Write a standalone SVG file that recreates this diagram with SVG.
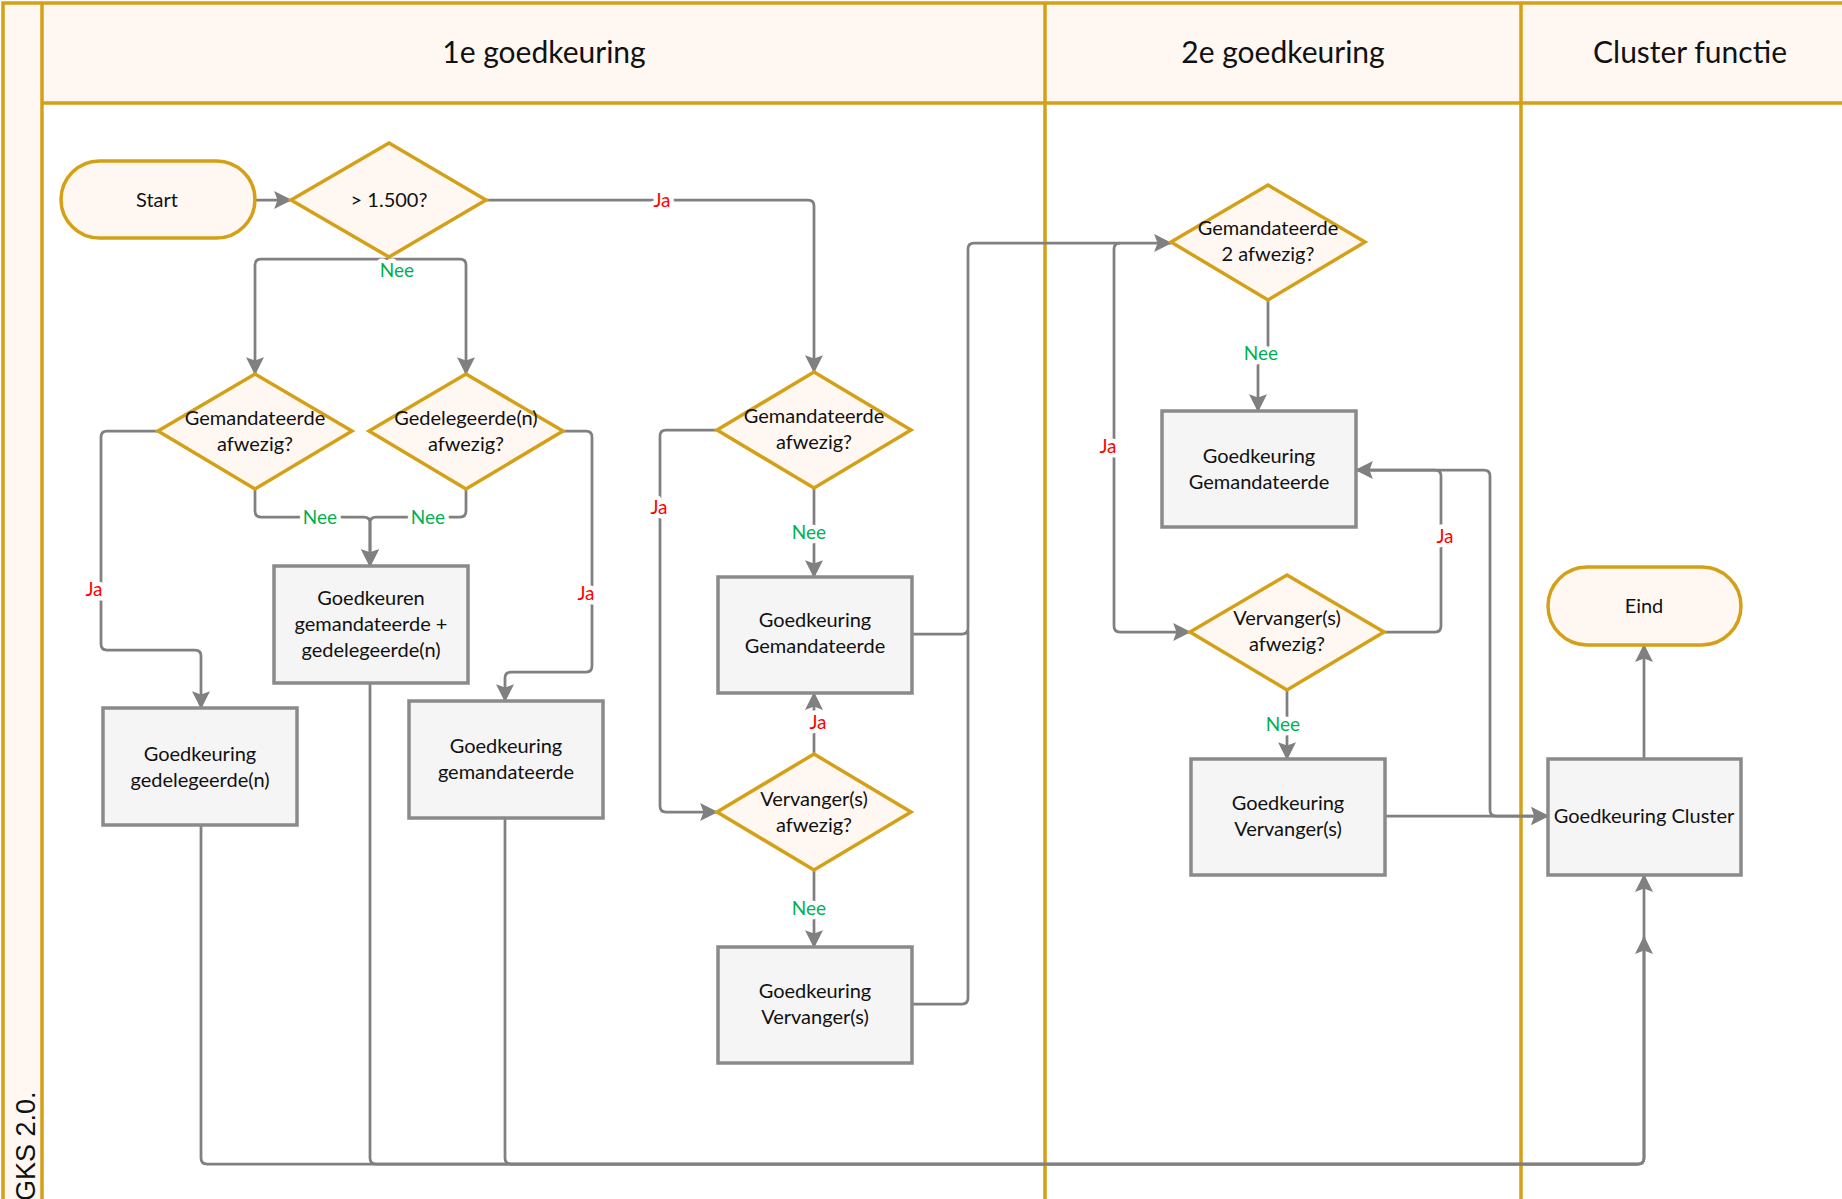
<svg xmlns="http://www.w3.org/2000/svg" width="1842" height="1199" viewBox="0 0 1842 1199">
<defs>
<marker id="arr" markerUnits="userSpaceOnUse" markerWidth="18" markerHeight="18" viewBox="0 0 16 16" refX="15" refY="8" orient="auto">
<path d="M0,0 L16,8 L0,16 L3,8 z" fill="#808080"/>
</marker>
<style>
.lane{stroke:#D4A017;stroke-width:3.5;fill:none}
.cream{fill:#FFF8F2}
.con{fill:none;stroke:#808080;stroke-width:2.75;stroke-linejoin:round}
.arr{marker-end:url(#arr)}
.box{fill:#F5F5F5;stroke:#8A8A8A;stroke-width:3.5}
.dia{fill:#FFF8F2;stroke:#D4A017;stroke-width:3.5;stroke-linejoin:miter}
.term{fill:#FFF8F2;stroke:#D4A017;stroke-width:3.5}
.t{font-family:Lato,"Open Sans","Liberation Sans",sans-serif;font-size:20px;fill:#111;text-anchor:middle}
.h{font-family:Lato,"Open Sans","Liberation Sans",sans-serif;font-size:30px;fill:#111;text-anchor:middle}
.ja{font-family:Lato,"Open Sans","Liberation Sans",sans-serif;font-size:19px;fill:#FF0000;text-anchor:middle;stroke:#fff;stroke-width:9;paint-order:stroke;stroke-linejoin:round}
.nee{font-family:Lato,"Open Sans","Liberation Sans",sans-serif;font-size:19px;fill:#00B050;text-anchor:middle;stroke:#fff;stroke-width:9;paint-order:stroke;stroke-linejoin:round}
</style>
</defs>
<rect x="0" y="0" width="1842" height="1199" fill="#fff"/>
<g id="pool">
<rect class="cream" x="3" y="3" width="39" height="1200"/>
<rect class="cream" x="42" y="3" width="1810" height="100"/>
<path class="lane" d="M3,1210 V3 H1850 M42,3 V1210 M42,103 H1850 M1045,3 V1210 M1521,3 V1210"/>
<text class="h" x="544" y="63">1e goedkeuring</text>
<text class="h" x="1283" y="63">2e goedkeuring</text>
<text class="h" x="1690" y="63">Cluster functie</text>
<text transform="translate(35,1201) rotate(-90)" font-family="'Liberation Sans',Arial,sans-serif" font-size="27" fill="#111">GKS 2.0.</text>
</g>
<g id="connectors">
<path class="con arr" d="M255,200 H291"/>
<path class="con arr" d="M486,200 H808 Q814,200 814,206 V372"/>
<path class="con arr" d="M389,257 V259 H261 Q255,259 255,265 V374"/>
<path class="con arr" d="M389,259 H460 Q466,259 466,265 V374"/>
<path class="con arr" d="M158,431 H107 Q101,431 101,437 V644 Q101,650 107,650 H195 Q201,650 201,656 V708"/>
<path class="con arr" d="M255,489 V511 Q255,517 261,517 H364 Q370,517 370,523 V566"/>
<path class="con arr" d="M466,489 V511 Q466,517 460,517 H376 Q370,517 370,523 V566"/>
<path class="con arr" d="M563,431 H586 Q592,431 592,437 V666 Q592,672 586,672 H511 Q505,672 505,678 V701"/>
<path class="con arr" d="M717,430 H666 Q660,430 660,436 V806 Q660,812 666,812 H717"/>
<path class="con arr" d="M814,488 V577"/>
<path class="con arr" d="M814,754 V693"/>
<path class="con arr" d="M814,870 V947"/>
<path class="con arr" d="M912,634 H962 Q968,634 968,628 V249 Q968,243 974,243 H1171"/>
<path class="con" d="M912,1004 H962 Q968,1004 968,998 V630"/>
<path class="con arr" d="M1120,243 Q1114,243 1114,249 V626 Q1114,632 1120,632 H1190"/>
<path class="con arr" d="M1268,300 V353 H1258 V411"/>
<path class="con arr" d="M1384,632 H1435 Q1441,632 1441,626 V476 Q1441,470 1435,470 H1356"/>
<path class="con arr" d="M1356,470 H1484 Q1490,470 1490,476 V810 Q1490,816 1496,816 H1548"/>
<path class="con arr" d="M1287,690 V759"/>
<path class="con arr" d="M1385,816 H1548"/>
<path class="con arr" d="M1644,759 V645"/>
<path class="con arr" d="M201,825 V1158 Q201,1164 207,1164 H1638 Q1644,1164 1644,1158 V875"/>
<path class="con" d="M370,683 V1158 Q370,1164 376,1164 H1638"/>
<path class="con arr" d="M505,818 V1158 Q505,1164 511,1164 H1638 Q1644,1164 1644,1158 V937"/>
<text class="ja" x="662" y="207">Ja</text>
<text class="nee" x="397" y="277">Nee</text>
<text class="ja" x="94" y="596">Ja</text>
<text class="nee" x="320" y="524">Nee</text>
<text class="nee" x="428" y="524">Nee</text>
<text class="ja" x="586" y="600">Ja</text>
<text class="ja" x="659" y="514">Ja</text>
<text class="nee" x="809" y="539">Nee</text>
<text class="ja" x="818" y="729">Ja</text>
<text class="nee" x="809" y="915">Nee</text>
<text class="ja" x="1108" y="453">Ja</text>
<text class="nee" x="1261" y="360">Nee</text>
<text class="ja" x="1445" y="543">Ja</text>
<text class="nee" x="1283" y="731">Nee</text>
</g>
<g id="start"><rect class="term" x="61" y="161" width="194" height="77" rx="38.5"/><text class="t" x="157" y="207">Start</text></g>
<g id="d_bedrag"><polygon class="dia" points="389,143 486,200 389,257 291,200"/><text class="t" x="389" y="207">&gt; 1.500?</text></g>
<g id="d_gemandateerde1"><polygon class="dia" points="255,374 352,431 255,489 158,431"/><text class="t" x="255" y="425">Gemandateerde</text><text class="t" x="255" y="451">afwezig?</text></g>
<g id="d_gedelegeerde"><polygon class="dia" points="466,374 563,431 466,489 369,431"/><text class="t" x="466" y="425">Gedelegeerde(n)</text><text class="t" x="466" y="451">afwezig?</text></g>
<g id="b_goedkeuren_beide"><rect class="box" x="274" y="566" width="194" height="117"/><text class="t" x="371" y="605">Goedkeuren</text><text class="t" x="371" y="631">gemandateerde +</text><text class="t" x="371" y="657">gedelegeerde(n)</text></g>
<g id="b_gedelegeerde"><rect class="box" x="103" y="708" width="194" height="117"/><text class="t" x="200" y="761">Goedkeuring</text><text class="t" x="200" y="787">gedelegeerde(n)</text></g>
<g id="b_gemandateerde1"><rect class="box" x="409" y="701" width="194" height="117"/><text class="t" x="506" y="753">Goedkeuring</text><text class="t" x="506" y="779">gemandateerde</text></g>
<g id="d_gemandateerde2"><polygon class="dia" points="814,372 911,430 814,488 717,430"/><text class="t" x="814" y="423">Gemandateerde</text><text class="t" x="814" y="449">afwezig?</text></g>
<g id="b_gemandateerde2"><rect class="box" x="718" y="577" width="194" height="116"/><text class="t" x="815" y="627">Goedkeuring</text><text class="t" x="815" y="653">Gemandateerde</text></g>
<g id="d_vervanger1"><polygon class="dia" points="814,754 911,812 814,870 717,812"/><text class="t" x="814" y="806">Vervanger(s)</text><text class="t" x="814" y="832">afwezig?</text></g>
<g id="b_vervanger1"><rect class="box" x="718" y="947" width="194" height="116"/><text class="t" x="815" y="998">Goedkeuring</text><text class="t" x="815" y="1024">Vervanger(s)</text></g>
<g id="d_gemandateerde3"><polygon class="dia" points="1268,185 1365,242 1268,300 1171,242"/><text class="t" x="1268" y="235">Gemandateerde</text><text class="t" x="1268" y="261">2 afwezig?</text></g>
<g id="b_gemandateerde3"><rect class="box" x="1162" y="411" width="194" height="116"/><text class="t" x="1259" y="463">Goedkeuring</text><text class="t" x="1259" y="489">Gemandateerde</text></g>
<g id="d_vervanger2"><polygon class="dia" points="1287,575 1384,632 1287,690 1190,632"/><text class="t" x="1287" y="625">Vervanger(s)</text><text class="t" x="1287" y="651">afwezig?</text></g>
<g id="b_vervanger2"><rect class="box" x="1191" y="759" width="194" height="116"/><text class="t" x="1288" y="810">Goedkeuring</text><text class="t" x="1288" y="836">Vervanger(s)</text></g>
<g id="eind"><rect class="term" x="1548" y="567" width="193" height="78" rx="39"/><text class="t" x="1644" y="613">Eind</text></g>
<g id="b_cluster"><rect class="box" x="1548" y="759" width="193" height="116"/><text class="t" x="1644" y="823">Goedkeuring Cluster</text></g>
</svg>
